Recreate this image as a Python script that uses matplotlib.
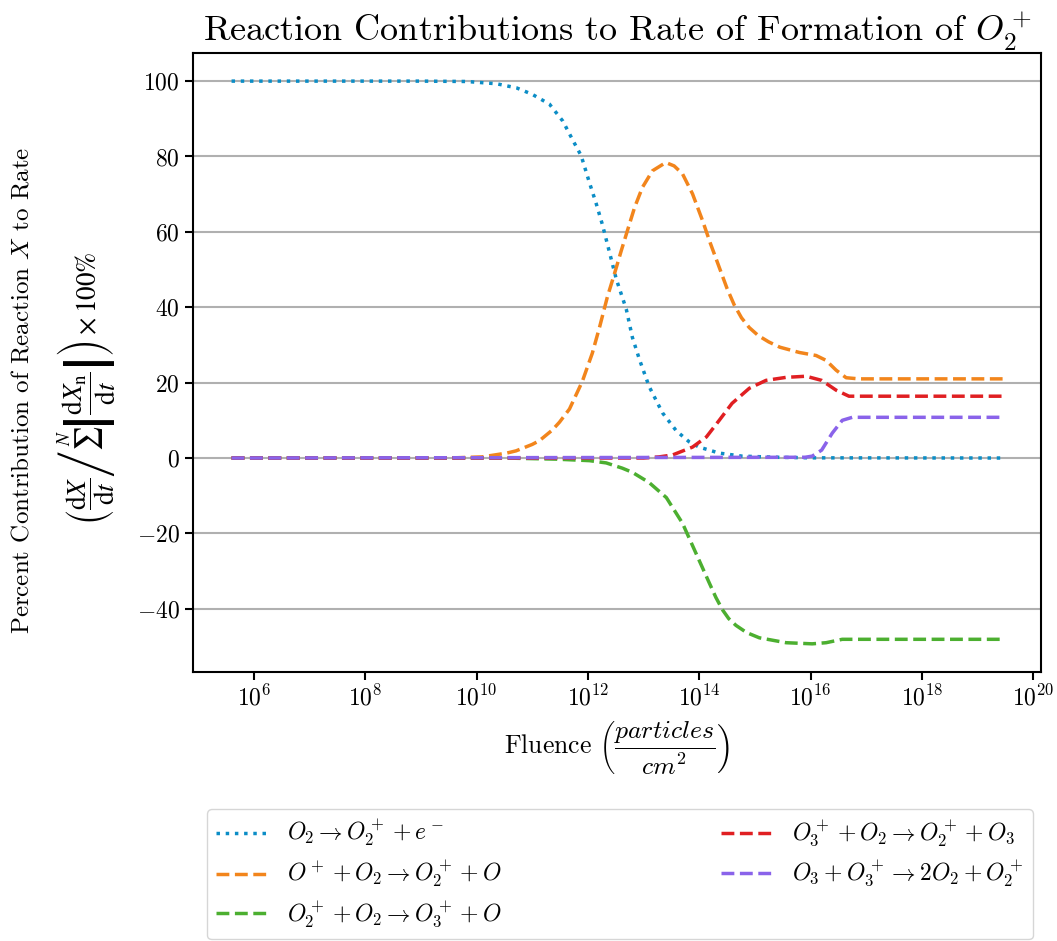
import numpy as np
import matplotlib
matplotlib.use("Agg")
import matplotlib.pyplot as plt
from matplotlib.ticker import NullLocator

plt.rcParams.update({
    "font.family": "serif",
    "font.serif": ["cmr10", "DejaVu Serif"],
    "mathtext.fontset": "cm",
    "axes.formatter.use_mathtext": True,
    "font.size": 17,
})

# log10 of fluence (particles/cm^2) and percent contribution
blue_lx = [5.6, 9.0, 9.82, 10.36, 10.72, 11.0, 11.31, 11.55, 11.72, 11.88, 12.03, 12.15,
           12.26, 12.39, 12.51, 12.69, 12.8, 12.93, 13.1, 13.34, 13.59, 13.82, 14.0,
           14.36, 14.77, 15.4, 16.0, 19.45]
blue_y = [100, 100, 99.9, 99.3, 98.2, 96.5, 93.9, 89.4, 84.6, 80.2, 73.0, 67.5,
          62.0, 54.5, 47.5, 39.5, 32.0, 26.0, 19.0, 12.0, 7.2, 4.3, 2.9,
          1.3, 0.5, 0.2, 0.05, 0.0]

orange_lx = [5.6, 9.5, 10.1, 10.54, 10.71, 11.0, 11.13, 11.36, 11.49, 11.67, 11.9, 12.08,
             12.21, 12.35, 12.48, 12.6, 12.71, 12.84, 12.98, 13.16, 13.4, 13.55, 13.7,
             13.88, 14.06, 14.2, 14.36, 14.5, 14.63, 14.76, 14.9, 15.06, 15.25, 15.45,
             15.8, 16.1, 16.28, 16.46, 16.64, 16.87, 19.45]
orange_y = [0, 0, 0.3, 1.3, 1.9, 3.6, 4.6, 7.4, 9.5, 13.0, 20.3, 27.8,
            34.7, 42.7, 49.0, 55.0, 60.3, 66.5, 71.8, 76.2, 78.4, 77.5, 75.4,
            70.1, 63.0, 57.0, 50.6, 45.0, 40.6, 37.2, 34.6, 32.5, 30.8, 29.4,
            28.0, 27.2, 25.9, 23.3, 21.3, 21.0, 21.0]

green_lx = [5.6, 10.5, 11.43, 12.03, 12.33, 12.62, 12.8, 13.1, 13.41, 13.7, 13.94, 14.18,
            14.3, 14.42, 14.53, 14.66, 14.85, 15.08, 15.56, 16.03, 16.28, 16.57, 19.45]
green_y = [0, 0, -0.3, -0.7, -1.3, -2.7, -3.8, -6.5, -10.5, -17.3, -25.2, -33.1,
           -37.0, -40.3, -42.6, -44.4, -46.3, -47.7, -49.0, -49.3, -49.0, -48.1, -48.1]

red_lx = [5.6, 13.0, 13.28, 13.52, 13.88, 14.13, 14.36, 14.59, 14.9, 15.2, 15.56, 15.92,
          16.2, 16.46, 16.69, 19.45]
red_y = [0, 0, 0.3, 0.8, 2.9, 5.6, 10.0, 14.5, 18.5, 20.6, 21.4, 21.7,
         20.6, 18.0, 16.4, 16.4]

purple_lx = [5.6, 15.9, 16.03, 16.2, 16.39, 16.57, 16.75, 19.45]
purple_y = [0, 0.2, 0.5, 2.1, 6.6, 10.0, 10.8, 10.8]

labels = [
    r"$O_2 \rightarrow O_2^+ + e^-$",
    r"$O^+ + O_2 \rightarrow O_2^+ + O$",
    r"$O_2^+ + O_2 \rightarrow O_3^+ + O$",
    r"$O_3^+ + O_2 \rightarrow O_2^+ + O_3$",
    r"$O_3 + O_3^+ \rightarrow 2O_2 + O_2^+$",
]

fig = plt.figure(figsize=(10.57, 9.41), dpi=100)
ax = fig.add_axes([0.1826, 0.2859, 0.8024, 0.6578])

lw = 2.5
ax.plot(10 ** np.array(blue_lx), blue_y, ':', color='#0b8dc6', lw=lw, label=labels[0])
ax.plot(10 ** np.array(orange_lx), orange_y, '--', color='#f2851c', lw=lw, label=labels[1])
ax.plot(10 ** np.array(green_lx), green_y, '--', color='#4caf30', lw=lw, label=labels[2])
ax.plot(10 ** np.array(red_lx), red_y, '--', color='#e01f22', lw=lw, label=labels[3])
ax.plot(10 ** np.array(purple_lx), purple_y, '--', color='#8a63ea', lw=lw, label=labels[4])

ax.set_xscale('log')
ax.set_xticks([10.0 ** k for k in range(6, 21, 2)])
ax.xaxis.set_minor_locator(NullLocator())
ax.grid(True, axis='y', color='#b0b0b0', lw=1.5)
ax.set_axisbelow(True)
for s in ax.spines.values():
    s.set_linewidth(1.5)
ax.tick_params(width=1.5, length=6)

ax.set_title(r"Reaction Contributions to Rate of Formation of $O_2^+$", fontsize=26, pad=8)
ax.set_xlabel(r"Fluence $\left(\dfrac{particles}{cm^2}\right)$", fontsize=18.5, labelpad=6)

# y label: two lines placed separately
fig.text(22 / 1057, 1 - 390 / 941, "Percent Contribution of Reaction $X$ to Rate",
         rotation=90, ha='center', va='center', fontsize=18)
fig.text(86 / 1057, 1 - 388 / 941,
         r"$\left(\dfrac{\mathrm{d}X}{\mathrm{d}t}\right.\left/\sum^{N}\left|\dfrac{\mathrm{d}X_\mathrm{n}}{\mathrm{d}t}\right|\right)\times 100\%$",
         rotation=90, ha='center', va='center', fontsize=19.5, math_fontfamily='stix')

x0 = (207 - 193) / 846
ax.legend(loc='upper center', bbox_to_anchor=(x0, (672 - 809) / 619, 824 / 846, 0.0),
          mode='expand', borderaxespad=0, ncol=2, fontsize=17, handlelength=2.1,
          handletextpad=0.9, labelspacing=0.4)

fig.savefig("out.png", dpi=100)
